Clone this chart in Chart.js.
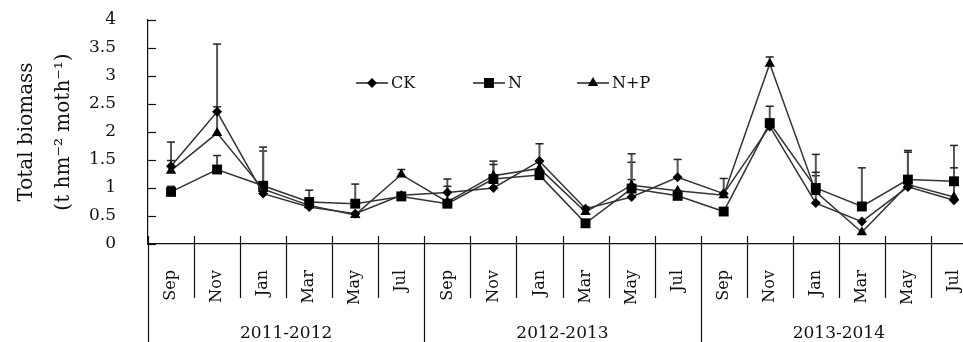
<!DOCTYPE html>
<html>
<head>
<meta charset="utf-8">
<script src="https://cdn.jsdelivr.net/npm/chart.js@4.4.1/dist/chart.umd.min.js"></script>
<style>
    body { margin: 0; background: #fff; overflow: hidden; }
    #wrap { width: 984px; height: 342px; }
</style>
</head>
<body>
<div id="wrap"><canvas id="biomassChart" width="984" height="342"></canvas></div>
<script>
const months = ['Sep', 'Nov', 'Jan', 'Mar', 'May', 'Jul',
                'Sep', 'Nov', 'Jan', 'Mar', 'May', 'Jul',
                'Sep', 'Nov', 'Jan', 'Mar', 'May', 'Jul'];
const groups = ['2011-2012', '2012-2013', '2013-2014'];
const yTicks = [0, 0.5, 1, 1.5, 2, 2.5, 3, 3.5, 4];

const ckValues = [1.39, 2.36, 0.90, 0.66, 0.54, 0.87, 0.92, 1.00, 1.48, 0.63, 0.84, 1.19, 0.90, 2.10, 0.73, 0.40, 1.02, 0.78];
const nValues  = [0.93, 1.33, 1.04, 0.75, 0.72, 0.85, 0.72, 1.16, 1.23, 0.37, 0.99, 0.86, 0.58, 2.16, 1.00, 0.67, 1.15, 1.12];
const npValues = [1.31, 1.98, 0.98, 0.69, 0.52, 1.24, 0.75, 1.22, 1.35, 0.57, 1.05, 0.95, 0.87, 3.22, 0.93, 0.21, 1.06, 0.84];

// upper error bars only (0 = no visible bar)
const ckErr = [0.43, 1.21, 0.76, 0, 0, 0, 0.24, 0, 0.31, 0, 0.31, 0.32, 0.27, 0, 0.49, 0, 0, 0];
const nErr  = [0.10, 0.25, 0.69, 0.21, 0.35, 0, 0, 0.32, 0, 0, 0.47, 0, 0, 0.30, 0.60, 0.69, 0.52, 0.64];
const npErr = [0.18, 0.47, 0, 0, 0, 0.09, 0.28, 0.20, 0, 0.09, 0.56, 0, 0, 0.12, 0.35, 0, 0.58, 0.52];

const serif = 'DejaVu Serif';

function drawMarker(ctx, style, x, y, r) {
    ctx.beginPath();
    if (style === 'rect') {
        const s = r * Math.SQRT1_2;
        ctx.rect(x - s, y - s, 2 * s, 2 * s);
    } else if (style === 'triangle') {
        ctx.moveTo(x, y - r);
        ctx.lineTo(x + r * 0.866, y + r * 0.5);
        ctx.lineTo(x - r * 0.866, y + r * 0.5);
        ctx.closePath();
    } else {
        ctx.moveTo(x, y - r);
        ctx.lineTo(x + r, y);
        ctx.lineTo(x, y + r);
        ctx.lineTo(x - r, y);
        ctx.closePath();
    }
    ctx.fill();
}

const errorBars = {
    id: 'errorBars',
    beforeDatasetsDraw(chart) {
        const ctx = chart.ctx;
        const x = chart.scales.x, y = chart.scales.y;
        ctx.save();
        chart.data.datasets.forEach(ds => {
            ds.errors.forEach((e, i) => {
                if (!e) return;
                const px = x.getPixelForValue(i);
                const y0 = y.getPixelForValue(ds.data[i]);
                const y1 = y.getPixelForValue(ds.data[i] + e);
                ctx.strokeStyle = '#555';
                ctx.lineWidth = 2;
                ctx.beginPath();
                ctx.moveTo(px, y0);
                ctx.lineTo(px, y1);
                ctx.stroke();
                ctx.strokeStyle = '#222';
                ctx.lineWidth = 1.5;
                ctx.beginPath();
                ctx.moveTo(px - 4, y1);
                ctx.lineTo(px + 4, y1);
                ctx.stroke();
            });
        });
        ctx.restore();
    }
};

const frame = {
    id: 'frame',
    afterDraw(chart) {
        const ctx = chart.ctx;
        const x = chart.scales.x, y = chart.scales.y;
        const area = chart.chartArea;
        const half = (x.getPixelForValue(1) - x.getPixelForValue(0)) / 2;
        ctx.save();
        ctx.strokeStyle = '#111';
        ctx.lineWidth = 1.2;

        // inward y ticks
        yTicks.forEach(v => {
            const py = Math.round(y.getPixelForValue(v)) + 0.5;
            ctx.beginPath();
            ctx.moveTo(area.left, py);
            ctx.lineTo(area.left + 8, py);
            ctx.stroke();
        });

        // month and year separators
        for (let i = 0; i <= months.length; i++) {
            const px = Math.round(x.getPixelForValue(i) - half) + 0.5;
            const isGroup = i % 6 === 0;
            ctx.beginPath();
            ctx.moveTo(px, area.bottom - 8);
            ctx.lineTo(px, isGroup ? chart.height : area.bottom + 54);
            ctx.stroke();
        }

        ctx.fillStyle = '#111';
        ctx.font = '17px "' + serif + '"';
        ctx.textAlign = 'center';
        ctx.textBaseline = 'middle';
        groups.forEach((g, k) => {
            ctx.fillText(g, x.getPixelForValue(k * 6 + 2.5), area.bottom + 90);
        });

        // legend inside the plot
        const ly = area.top + 63;
        ctx.font = '16px "' + serif + '"';
        ctx.textAlign = 'left';
        chart.data.datasets.forEach((ds, k) => {
            const start = area.left + [208, 325, 429][k];
            ctx.strokeStyle = '#222';
            ctx.lineWidth = 1.5;
            ctx.beginPath();
            ctx.moveTo(start, ly);
            ctx.lineTo(start + 32, ly);
            ctx.stroke();
            ctx.fillStyle = '#000';
            drawMarker(ctx, ds.pointStyle, start + 16, ly, ds.pointRadius);
            ctx.fillStyle = '#111';
            ctx.fillText(ds.label, start + 35, ly + 1);
        });
        ctx.restore();
    }
};

function series(label, data, errors, style, radius) {
    return {
        label: label,
        data: data,
        errors: errors,
        borderColor: '#333',
        borderWidth: 1.5,
        backgroundColor: '#000',
        pointBackgroundColor: '#000',
        pointBorderColor: '#000',
        pointBorderWidth: 0,
        pointStyle: style,
        pointRadius: radius,
        tension: 0
    };
}

new Chart(document.getElementById('biomassChart').getContext('2d'), {
    type: 'line',
    data: {
        labels: months,
        datasets: [
            series('CK', ckValues, ckErr, 'rectRot', 5),
            series('N', nValues, nErr, 'rect', 7),
            series('N+P', npValues, npErr, 'triangle', 6)
        ]
    },
    options: {
        responsive: false,
        animation: false,
        layout: { padding: { top: 20, right: 1, left: 0, bottom: 0 } },
        plugins: {
            legend: { display: false },
            tooltip: { enabled: false }
        },
        scales: {
            x: {
                offset: true,
                grid: { display: false },
                border: { display: true, color: '#111', width: 1.2 },
                ticks: {
                    autoSkip: false,
                    minRotation: 90,
                    maxRotation: 90,
                    padding: 18,
                    color: '#111',
                    font: { family: serif, size: 16 }
                },
                afterFit(scale) {
                    scale.height = 98;
                    scale.paddingLeft = 0;
                    scale.paddingRight = 0;
                }
            },
            y: {
                min: 0,
                max: 4,
                grid: { display: false },
                border: { display: true, color: '#111', width: 1.2 },
                ticks: {
                    stepSize: 0.5,
                    padding: 24,
                    color: '#111',
                    font: { family: serif, size: 17 },
                    callback: v => String(+v.toFixed(1))
                },
                title: {
                    display: true,
                    text: ['Total biomass', '(t hm\u207B\u00B2 moth\u207B\u00B9)'],
                    color: '#111',
                    font: { family: serif, size: 20, lineHeight: '37px' },
                    padding: { top: 8, bottom: 0 }
                },
                afterFit(scale) {
                    scale.width = 148;
                    scale.paddingTop = 0;
                    scale.paddingBottom = 0;
                }
            }
        }
    },
    plugins: [errorBars, frame]
});
</script>
</body>
</html>
